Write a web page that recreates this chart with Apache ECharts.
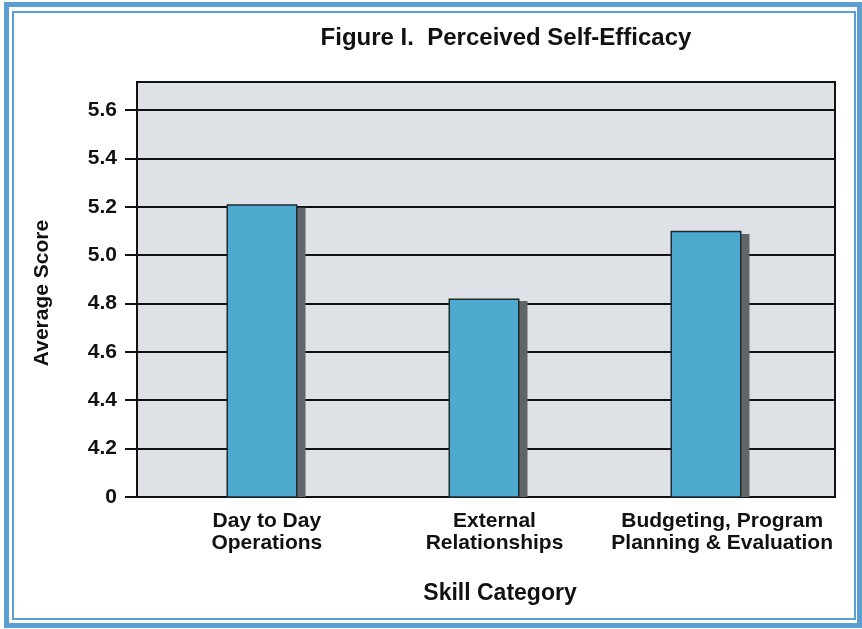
<!DOCTYPE html>
<html>
<head>
<meta charset="utf-8">
<script src="https://cdn.jsdelivr.net/npm/echarts@6/dist/echarts.min.js"></script>
<style>
html,body{margin:0;padding:0;background:#fff;}
#wrap{position:relative;width:862px;height:629px;overflow:hidden;}
#chart{position:absolute;left:0;top:0;width:862px;height:629px;}
#outer{position:absolute;left:4px;top:2px;width:848px;height:616px;border:5px solid #5b9fd3;pointer-events:none;}
#inner{position:absolute;left:12px;top:11px;width:840px;height:605px;border:2px solid #5b9fd3;pointer-events:none;}
</style>
</head>
<body>
<div id="wrap">
<div id="chart"></div>
<div id="outer"></div>
<div id="inner"></div>
</div>
<script>
// Data
const categories = ['Day to Day\nOperations', 'External\nRelationships', 'Budgeting, Program\nPlanning & Evaluation'];
const scores = [5.21, 4.82, 5.10];
const yTickLabels = ['0', '4.2', '4.4', '4.6', '4.8', '5.0', '5.2', '5.4', '5.6'];
const yMin = 4.0, yTop = 5.6, yBoxMax = 5.715, yStep = 0.2;

const font = '"Liberation Sans", Arial, sans-serif';
const chart = echarts.init(document.getElementById('chart'));

const option = {
  animation: false,
  backgroundColor: 'transparent',
  graphic: [
    { type: 'text', x: 506, y: 38, z: 10,
      style: { text: 'Figure I.  Perceived Self-Efficacy', font: 'bold 24px ' + font, fill: '#111', align: 'center', verticalAlign: 'middle' } },
    { type: 'text', x: 500, y: 594, z: 10,
      style: { text: 'Skill Category', font: 'bold 23px ' + font, fill: '#111', align: 'center', verticalAlign: 'middle' } },
    { type: 'text', x: 42, y: 293, rotation: Math.PI / 2, z: 10,
      style: { text: 'Average Score', font: 'bold 21px ' + font, fill: '#111', align: 'center', verticalAlign: 'middle' } }
  ],
  grid: [
    // plot box
    { left: 137, right: 27, top: 82, bottom: 132, show: true, backgroundColor: '#dee1e5', borderColor: '#111', borderWidth: 2, z: 0 },
    // y axis + gridlines
    { left: 137, right: 27, top: 110, bottom: 132 },
    // bar shadows
    { left: 159, right: 37, top: 87, bottom: 132 },
    // bars
    { left: 151, right: 45, top: 82, bottom: 132 },
    // category labels
    { left: 153, right: 26, top: 82, bottom: 132 }
  ],
  xAxis: [
    { gridIndex: 0, type: 'category', data: categories, show: false },
    { gridIndex: 1, type: 'category', data: categories, show: false },
    { gridIndex: 2, type: 'category', data: categories, show: false },
    { gridIndex: 3, type: 'category', data: categories, show: false },
    { gridIndex: 4, type: 'category', data: categories,
      axisLine: { show: false }, axisTick: { show: false }, splitLine: { show: false },
      axisLabel: { interval: 0, margin: 13, fontFamily: font, fontWeight: 'bold', fontSize: 21, lineHeight: 22, color: '#111' } }
  ],
  yAxis: [
    { gridIndex: 0, type: 'value', min: yMin, max: yBoxMax, show: false },
    { gridIndex: 1, type: 'value', min: yMin, max: yTop, interval: yStep,
      axisLine: { show: false },
      axisTick: { show: true, inside: false, length: 12, lineStyle: { color: '#111', width: 2 } },
      splitLine: { show: true, lineStyle: { color: '#111', width: 2 } },
      axisLabel: { margin: 20, fontFamily: font, fontWeight: 'bold', fontSize: 21, color: '#111',
        formatter: function (v) { const i = Math.round((v - yMin) / yStep); return yTickLabels[i] !== undefined ? yTickLabels[i] : ''; } } },
    { gridIndex: 2, type: 'value', min: yMin, max: yBoxMax, show: false },
    { gridIndex: 3, type: 'value', min: yMin, max: yBoxMax, show: false },
    { gridIndex: 4, type: 'value', min: yMin, max: yBoxMax, show: false }
  ],
  series: [
    { type: 'bar', xAxisIndex: 2, yAxisIndex: 2, data: scores, barWidth: 71, z: 4, silent: true,
      itemStyle: { color: '#60656a' } },
    { type: 'bar', xAxisIndex: 3, yAxisIndex: 3, data: scores, barWidth: 71, z: 5,
      itemStyle: { color: '#4ea9cf', borderColor: '#1f2a30', borderWidth: 1.5 } }
  ]
};
chart.setOption(option);
</script>
</body>
</html>
